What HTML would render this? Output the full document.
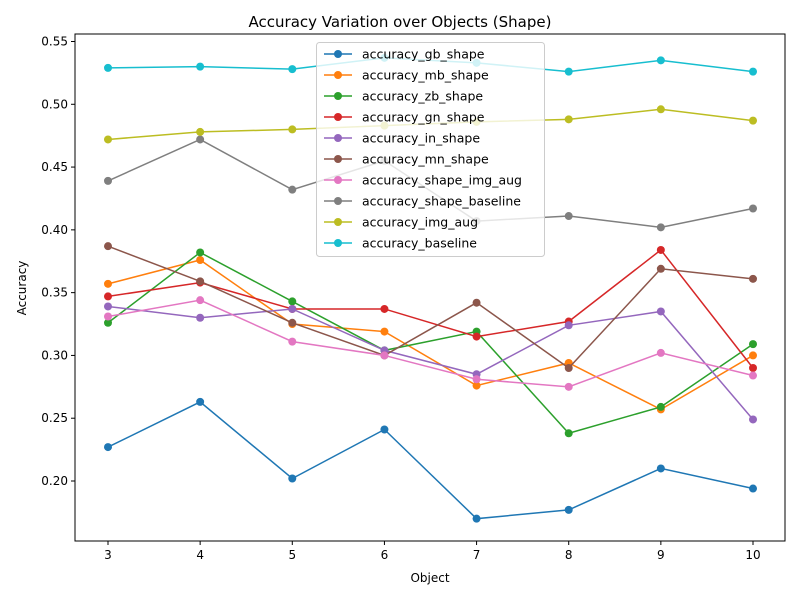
<!DOCTYPE html>
<html><head><meta charset="utf-8"><style>
body{margin:0;background:#fff;font-family:"Liberation Sans","DejaVu Sans",sans-serif;}
</style></head><body>
<svg id="chart" width="800" height="600" xmlns="http://www.w3.org/2000/svg" font-family="DejaVu Sans, Liberation Sans, sans-serif"></svg>
<script>
const objects=[3,4,5,6,7,8,9,10];
const seriesNames=["accuracy_gb_shape","accuracy_mb_shape","accuracy_zb_shape","accuracy_gn_shape","accuracy_in_shape","accuracy_mn_shape","accuracy_shape_img_aug","accuracy_shape_baseline","accuracy_img_aug","accuracy_baseline"];
const gb=[0.227,0.263,0.202,0.241,0.170,0.177,0.210,0.194];
const mb=[0.357,0.376,0.325,0.319,0.276,0.294,0.257,0.300];
const zb=[0.326,0.382,0.343,0.304,0.319,0.238,0.259,0.309];
const gn=[0.347,0.358,0.337,0.337,0.315,0.327,0.384,0.290];
const inn=[0.339,0.330,0.337,0.304,0.285,0.324,0.335,0.249];
const mn=[0.387,0.359,0.326,0.300,0.342,0.290,0.369,0.361];
const shapeImgAug=[0.331,0.344,0.311,0.300,0.281,0.275,0.302,0.284];
const shapeBaseline=[0.439,0.472,0.432,0.455,0.407,0.411,0.402,0.417];
const imgAug=[0.472,0.478,0.480,0.483,0.486,0.488,0.496,0.487];
const baseline=[0.529,0.530,0.528,0.537,0.533,0.526,0.535,0.526];
const yTicks=[0.20,0.25,0.30,0.35,0.40,0.45,0.50,0.55];
const colors=["#1f77b4","#ff7f0e","#2ca02c","#d62728","#9467bd","#8c564b","#e377c2","#7f7f7f","#bcbd22","#17becf"];
const allSeries=[gb,mb,zb,gn,inn,mn,shapeImgAug,shapeBaseline,imgAug,baseline];
const NS="http://www.w3.org/2000/svg";
const svg=document.getElementById('chart');
const L=75,R=785,T=34,B=541;
const xS=v=>108+(v-3)*(753-108)/7;
const yS=v=>481-(v-0.20)*(481-41.5)/0.35;
function mk(tag,attrs,parent){const e=document.createElementNS(NS,tag);for(const k in attrs)e.setAttribute(k,attrs[k]);(parent||svg).appendChild(e);return e;}
let t=mk('text',{x:400,y:27,'text-anchor':'middle','font-size':15});t.textContent="Accuracy Variation over Objects (Shape)";


// ticks
objects.forEach(o=>{
 const l=mk('line',{x1:xS(o),x2:xS(o),y1:B,y2:B+4,stroke:'#000'});
 
 
 const tx=mk('text',{x:xS(o),y:B+18,'text-anchor':'middle','font-size':12});tx.textContent=o;
 
 
});
yTicks.forEach(v=>{
 const l=mk('line',{x1:L-4,x2:L,y1:yS(v),y2:yS(v),stroke:'#000'});
 
 
 const tx=mk('text',{x:L-7,y:yS(v)+4,'text-anchor':'end','font-size':12});tx.textContent=v.toFixed(2);
 
 
});
t=mk('text',{x:430,y:582,'text-anchor':'middle','font-size':12});t.textContent="Object";


t=mk('text',{x:26,y:288,'text-anchor':'middle','font-size':12,transform:'rotate(-90 26 288)'});t.textContent="Accuracy";


// series
allSeries.forEach((s,i)=>{
 const g=mk('g',{});
 
 
 const p=mk('polyline',{points:s.map((v,j)=>xS(objects[j])+','+yS(v)).join(' '),fill:'none',stroke:colors[i],'stroke-width':1.5},g);
 
 
 s.forEach((v,j)=>{const c=mk('circle',{cx:xS(objects[j]),cy:yS(v),r:4,fill:colors[i]},g);
  
  });
});
const fr=mk('rect',{x:L,y:T,width:R-L,height:B-T,fill:'none',stroke:'#000','stroke-width':1});


// legend
const lg=mk('g',{});


mk('rect',{x:316.5,y:42.5,width:228,height:214,rx:3,fill:'#fff','fill-opacity':0.8,stroke:'#ccc'},lg);
seriesNames.forEach((n,i)=>{
 const y=54+i*21;
 const e=mk('g',{},lg);
 
 
 mk('line',{x1:324,x2:352,y1:y,y2:y,stroke:colors[i],'stroke-width':1.5},e);
 mk('circle',{cx:338,cy:y,r:4,fill:colors[i]},e);
 const tx=mk('text',{x:362,y:y+4.5,'font-size':12.5},e);tx.textContent=n;
});
</script>
</body></html>
